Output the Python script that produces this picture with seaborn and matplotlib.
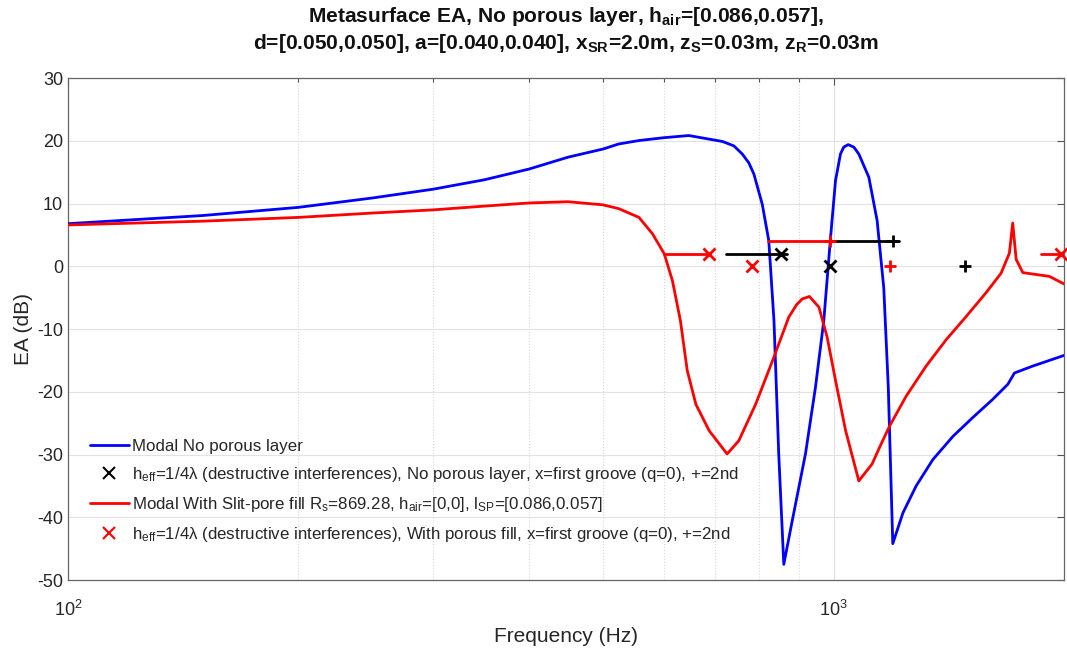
import numpy as np
import pandas as pd
import matplotlib
matplotlib.use("Agg")
import matplotlib.pyplot as plt
from matplotlib.lines import Line2D
import seaborn as sns

# EA curves (frequency in Hz, EA in dB)
freq_blue = [100, 150, 200, 250, 300, 350, 400, 450, 500, 524, 557, 600, 647, 716,
             741, 760, 775, 787, 807, 823, 836, 848, 861, 883, 919, 947, 971, 991, 1006,
             1021, 1031, 1045, 1063, 1079, 1112, 1140, 1163, 1179, 1195, 1232, 1282, 1348, 1432,
             1520, 1614, 1689, 1723, 1820, 2000]
ea_blue = [6.8, 8.1, 9.4, 10.9, 12.3, 13.8, 15.5, 17.4, 18.7, 19.5, 20.05, 20.5, 20.85, 19.9,
           19.2, 17.9, 16.5, 14.7, 9.9, 4.1, -8.7, -29.9, -47.5, -40.6, -29.9, -19.3, -8.7, 4.6, 13.7,
           17.9, 19.0, 19.4, 19.0, 17.9, 14.2, 7.3, -3.4, -19.3, -44.2, -39.3, -35.0, -30.8, -27.1,
           -24.1, -21.2, -18.8, -17.0, -15.9, -14.2]

freq_red = [100, 150, 200, 250, 300, 350, 400, 450, 500, 524, 557, 580, 601, 616, 631,
            644, 661, 688, 726, 752, 791, 832, 874, 895, 910, 930, 957, 981, 1006, 1037,
            1079, 1123, 1148, 1183, 1244, 1321, 1403, 1490, 1582, 1655, 1697, 1714,
            1732, 1767, 1839, 1914, 2000]
ea_red = [6.6, 7.2, 7.8, 8.5, 9.0, 9.6, 10.1, 10.3, 9.8, 9.2, 7.8, 5.2, 2.0, -2.3, -8.7,
          -16.6, -22.0, -26.2, -29.9, -27.8, -22.0, -15.1, -8.1, -6.1, -5.2, -4.8, -6.5, -11.3, -18.2, -26.2,
          -34.2, -31.5, -28.9, -25.5, -20.7, -15.9, -11.7, -8.0, -4.2, -1.1, 2.1, 6.9,
          1.1, -1.0, -1.3, -1.6, -2.8]

# h_eff = 1/4 lambda ranges (start, end, level)
black_seg_start = [724, 991]
black_seg_end = [870, 1217]
black_seg_level = [2, 4]
red_seg_start = [601, 822, 1866]
red_seg_end = [688, 991, 2000]
red_seg_level = [2, 4, 2]

# markers: x = first groove, + = second
black_x_freq = [853, 988]
black_x_ea = [2, 0]
black_plus_freq = [1195, 1487]
black_plus_ea = [4, 0]
red_x_freq = [688, 782, 1983]
red_x_ea = [2, 0, 2]
red_plus_freq = [988, 1186]
red_plus_ea = [4, 0]

labels = [
    "Modal No porous layer",
    "h$_{eff}$=1/4λ (destructive interferences), No porous layer, x=first groove (q=0), +=2nd",
    "Modal With Slit-pore fill R$_{s}$=869.28, h$_{air}$=[0,0], l$_{SP}$=[0.086,0.057]",
    "h$_{eff}$=1/4λ (destructive interferences), With porous fill, x=first groove (q=0), +=2nd",
]

sns.set_style("white")
plt.rcParams['font.family'] = ['Liberation Sans', 'DejaVu Sans']
plt.rcParams['mathtext.default'] = 'regular'
plt.rcParams['axes.unicode_minus'] = False

curves = pd.concat([
    pd.DataFrame({"freq": freq_blue, "ea": ea_blue, "series": "blue"}),
    pd.DataFrame({"freq": freq_red, "ea": ea_red, "series": "red"}),
])

fig = plt.figure(figsize=(10.67, 6.51), dpi=100)
ax = fig.add_subplot(111)
fig.subplots_adjust(left=0.0637, right=0.9972, bottom=0.109, top=0.880)

sns.lineplot(data=curves, x="freq", y="ea", hue="series", units="series",
             palette={"blue": "#0000ff", "red": "#ff0000"}, estimator=None,
             sort=False, lw=2, legend=False, ax=ax, zorder=3)

for s, e, lv in zip(red_seg_start, red_seg_end, red_seg_level):
    sns.lineplot(x=[s, e], y=[lv, lv], color="#ff0000", lw=2, ax=ax, zorder=4)
for s, e, lv in zip(black_seg_start, black_seg_end, black_seg_level):
    sns.lineplot(x=[s, e], y=[lv, lv], color="black", lw=2, ax=ax, zorder=4)

mk = dict(s=75, linewidth=2, zorder=5, ax=ax, clip_on=False)
sns.scatterplot(x=black_x_freq, y=black_x_ea, marker="x", color="black", **mk)
sns.scatterplot(x=black_plus_freq, y=black_plus_ea, marker="+", color="black", **mk)
sns.scatterplot(x=red_x_freq, y=red_x_ea, marker="x", color="#ff0000", **mk)
sns.scatterplot(x=red_plus_freq, y=red_plus_ea, marker="+", color="#ff0000", **mk)

ax.set_xscale("log")
ax.set_xlim(100, 2000)
ax.set_ylim(-50, 30)
ax.set_yticks(np.arange(-50, 31, 10))

ax.grid(True, which="major", color="#e2e2e2", lw=0.8)
ax.grid(True, which="minor", axis="x", color="#d6d6d6", lw=0.8, ls=":")
ax.set_axisbelow(True)
ax.tick_params(which="both", direction="in", top=True, right=True,
               colors="#555555", labelcolor="#262626", labelsize=13)
ax.tick_params(which="major", length=5, width=0.8)
ax.tick_params(which="minor", length=3, width=0.8)
ax.tick_params(axis="x", which="major", pad=14)
ax.yaxis.set_minor_locator(matplotlib.ticker.NullLocator())
for sp in ax.spines.values():
    sp.set_color("#666666")
    sp.set_linewidth(0.9)

ax.set_xlabel("Frequency (Hz)", fontsize=15, color="#262626", labelpad=5)
ax.set_ylabel("EA (dB)", fontsize=15, color="#262626", labelpad=3)
ax.set_title("Metasurface EA, No porous layer, h$_{air}$=[0.086,0.057],\n"
             "d=[0.050,0.050], a=[0.040,0.040], x$_{SR}$=2.0m, z$_{S}$=0.03m, z$_{R}$=0.03m",
             fontsize=15.1, fontweight="bold", linespacing=1.25, pad=21, color="#111111")

handles = [
    Line2D([], [], color="#0000ff", lw=2),
    Line2D([], [], color="black", marker="x", ls="none", ms=8, mew=1.5),
    Line2D([], [], color="#ff0000", lw=2),
    Line2D([], [], color="#ff0000", marker="x", ls="none", ms=8, mew=1.5),
]
ax.legend(handles, labels, loc="upper left", bbox_to_anchor=(0.022, 0.281),
          frameon=False, fontsize=12.2, handlelength=2.3, handletextpad=0.2,
          labelspacing=0.64, borderpad=0, borderaxespad=0, labelcolor="#262626")

fig.savefig("out.png", dpi=100)
